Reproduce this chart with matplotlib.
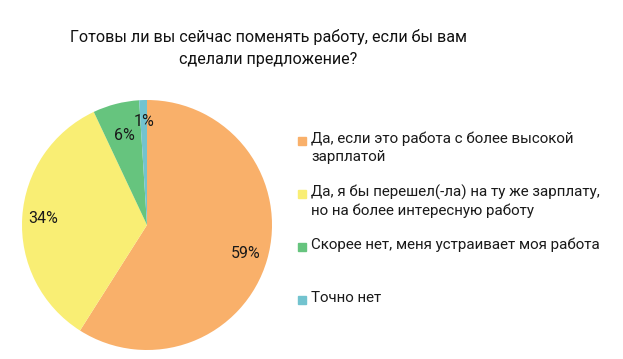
import numpy as np
import matplotlib.pyplot as plt
from matplotlib.patches import Rectangle

plt.rcParams['font.family'] = ['Roboto', 'DejaVu Sans']

# donnees
labels = ["Да, если это работа с более высокой\nзарплатой",
          "Да, я бы перешел(-ла) на ту же зарплату,\nно на более интересную работу",
          "Скорее нет, меня устраивает моя работа",
          "Точно нет"]
values = [59, 34, 6, 1]
colors = ['#F9B06A', '#F9EE74', '#66C47E', '#72C3CF']
title = "Готовы ли вы сейчас поменять работу, если бы вам\nсделали предложение?"

W, H = 623, 359
fig = plt.figure(figsize=(W/100, H/100), dpi=100)

# pie: centre (147,225) px, rayon 125 px
cx, cy, r = 147, 225, 125
ax = fig.add_axes([(cx-r)/W, (H-cy-r)/H, 2*r/W, 2*r/H])
wedges, texts = ax.pie(values, colors=colors, startangle=90, counterclock=False,
                       radius=1, wedgeprops=dict(linewidth=0))
ax.set_xlim(-1, 1)
ax.set_ylim(-1, 1)

# etiquettes en %
dist = [0.82, 0.83, 0.74, 0.83]
for w, v, d in zip(wedges, values, dist):
    ang = np.deg2rad((w.theta1 + w.theta2) / 2)
    ax.text(d*np.cos(ang), d*np.sin(ang), "%d%%" % v, ha='center', va='center',
            fontsize=11.5, color='#1a1a1a')

fig.text(268/W, 1-48/H, title, ha='center', va='center', fontsize=11.6,
         linespacing=1.6, color='#111111')

# legende
y0 = 141
step = 53
for i, (lab, c) in enumerate(zip(labels, colors)):
    y = y0 + i*step
    fig.patches.append(Rectangle((298/W, 1-(y+4)/H), 8/W, 8/H, color=c,
                                 transform=fig.transFigure, figure=fig))
    fig.text(311/W, 1-(y-9)/H, lab, ha='left', va='top', fontsize=10.9,
             linespacing=1.3, color='#1a1a1a')

plt.savefig('out.png', dpi=100)
